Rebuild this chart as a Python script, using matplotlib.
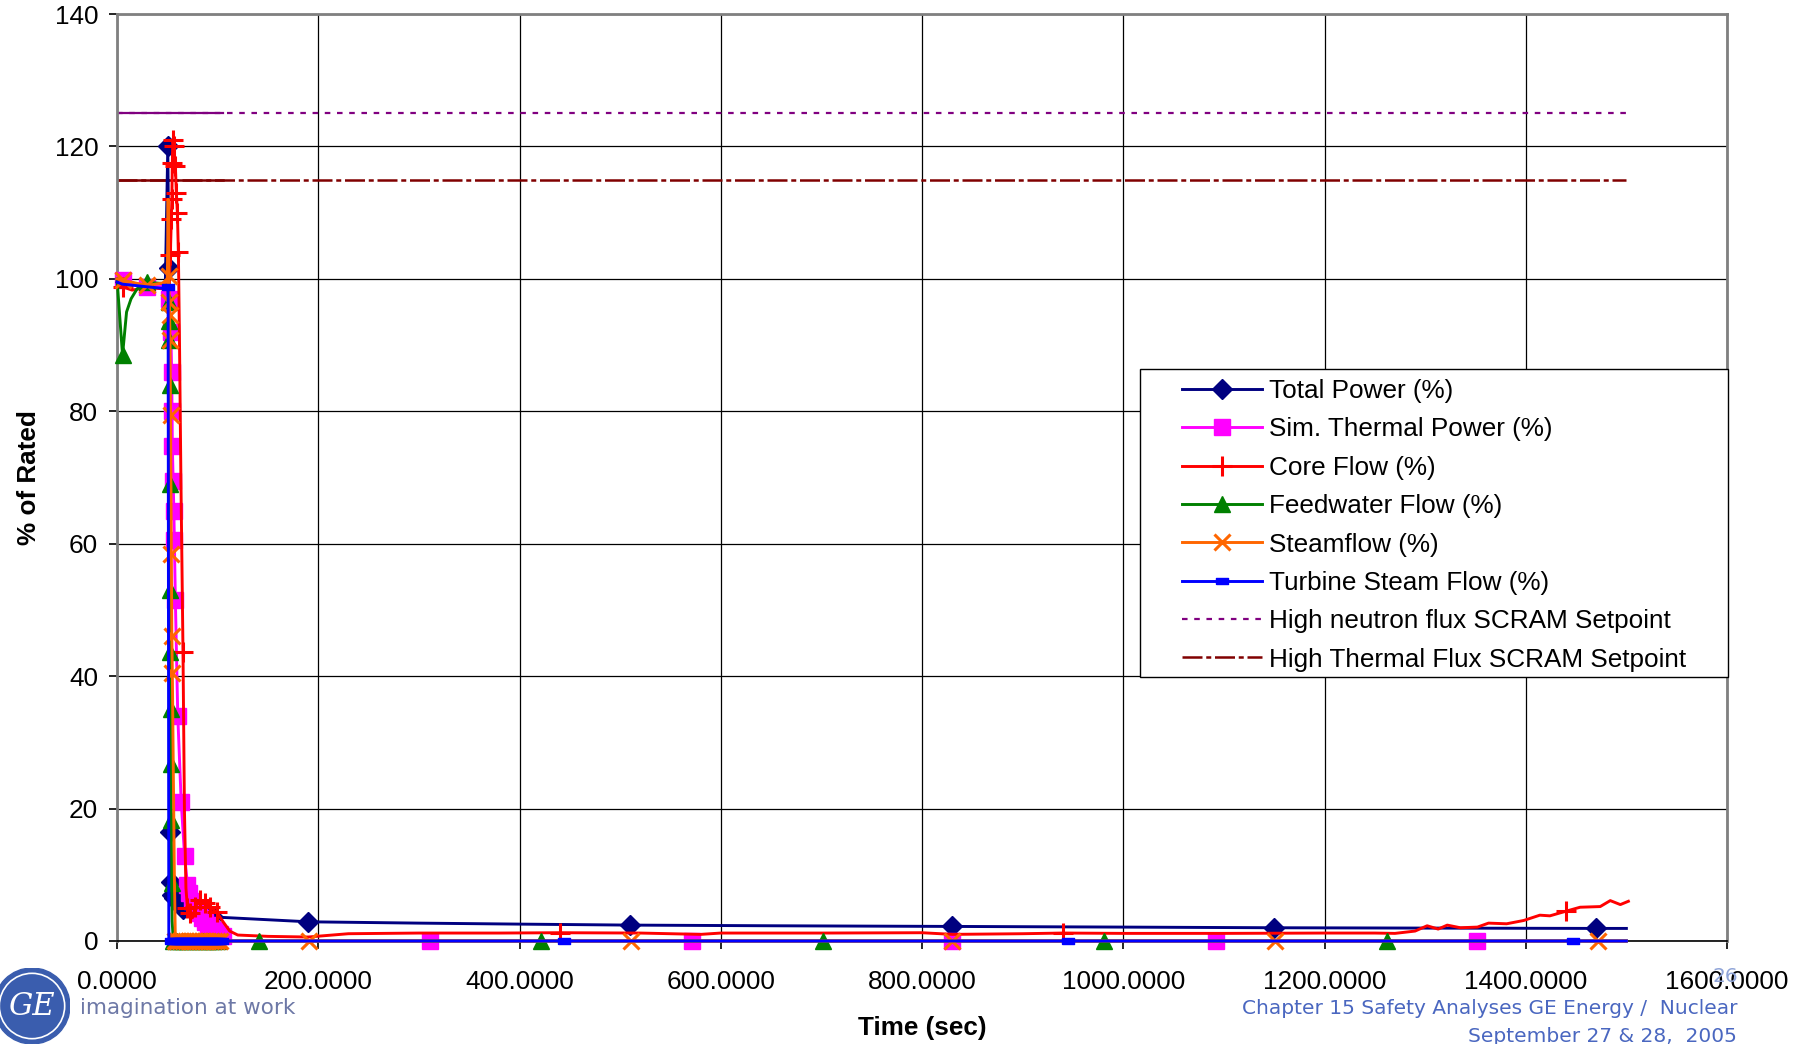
import matplotlib.pyplot as plt
from matplotlib.patches import Rectangle, Circle
from matplotlib.ticker import FormatStrFormatter, MultipleLocator

plt.rcParams['font.family'] = ['Liberation Sans', 'DejaVu Sans']

# ---- data (time in sec, values in % of rated) ----
# Total Power (%)
tp_t = [0, 5.5, 30, 48, 50.5, 51.5, 52.4, 53.2, 54.5, 57, 60, 63, 66, 70, 75, 80, 85, 90, 95, 100,
        190, 300, 400, 510, 650, 830, 1000, 1150, 1300, 1470, 1500]
tp_v = [99.5, 99.3, 99.0, 99.0, 120.0, 101.6, 16.5, 8.9, 7.0, 6.5, 6.0, 5.4, 4.8, 4.5, 4.3, 4.2, 4.0, 3.9, 3.7, 3.6,
        2.9, 2.7, 2.55, 2.4, 2.3, 2.2, 2.1, 2.0, 1.95, 1.9, 1.9]
tp_mk = [50.5, 51.5, 52.4, 53.2, 54.5, 57, 63, 66, 90, 95, 190, 510, 830, 1150, 1470]

# Sim. Thermal Power (%)
st_t = [0, 5.5, 30, 50, 52, 53.5, 54.3, 54.7, 55.0, 55.8, 56.5, 57, 58, 60.4, 63.8, 67.2, 70, 72, 75, 78, 81,
        84, 87, 90, 93, 96, 99, 102, 105, 108, 311, 571, 830, 1092, 1352, 1500]
st_v = [100, 99.8, 98.8, 99.0, 97, 92, 86, 80, 74.7, 69.5, 65, 60.5, 51.5, 34, 21, 12.8, 8.5, 7.2, 6.0, 5.0, 4.2,
        3.5, 2.9, 2.4, 2.0, 1.6, 1.3, 1.0, 0.8, 0, 0, 0, 0, 0, 0, 0]
st_mk = [5.5, 30, 52, 53.5, 54.3, 54.7, 55.0, 55.8, 56.5, 57, 58, 60.4, 63.8, 67.2, 70, 72, 75, 78, 81,
         84, 87, 90, 93, 96, 99, 102, 105, 311, 571, 830, 1092, 1352]

# Core Flow (%)
cf_t = [0, 5.5, 15, 30, 45, 50, 52, 53, 54, 54.5, 55, 55.5, 56.5, 58, 59, 60, 61, 62, 63.5, 65.6, 67, 68.5,
        70, 72.5, 75, 78, 82.5, 87, 92, 99, 105, 112, 120, 150, 190, 230, 300, 380, 440, 520, 580, 600,
        700, 800, 830, 900, 940, 1000, 1100, 1200, 1250, 1270, 1290, 1302, 1313, 1322, 1335, 1352, 1363,
        1381, 1398, 1414, 1424, 1440, 1454, 1474, 1484, 1494, 1502]
cf_v = [99.5, 98.8, 98.3, 98.7, 98.5, 98.5, 99.0, 103.6, 109, 112, 117.5, 121, 120, 117, 113, 110, 104, 92,
        70, 43.6, 20, 8, 5.0, 4.2, 3.5, 5.2, 6.2, 5.8, 5.1, 4.4, 3.0, 1.5, 0.9, 0.7, 0.6, 1.1, 1.2, 1.2,
        1.25, 1.2, 1.0, 1.2, 1.2, 1.25, 1.0, 1.1, 1.2, 1.15, 1.15, 1.2, 1.2, 1.15, 1.5, 2.3, 1.8, 2.4, 2.0,
        2.1, 2.7, 2.6, 3.1, 3.9, 3.8, 4.5, 5.1, 5.2, 6.1, 5.5, 6.0]
cf_mk = [5.5, 53, 54, 54.5, 55, 55.5, 56.5, 58, 59, 60, 61, 65.6, 70, 72.5, 78, 82.5, 87, 92, 99,
         440, 940, 1440]

# Feedwater Flow (%)
fw_t = [0, 5.5, 9.5, 14, 20, 30, 45, 50.5, 51.3, 51.6, 51.9, 52.2, 52.5, 52.8, 53.1, 53.4, 53.7, 54.0,
        54.3, 54.8, 56, 60, 65, 70, 75, 80, 85, 90, 95, 100, 141, 421, 702, 981, 1262, 1500]
fw_v = [100, 88.5, 95, 97, 98.5, 99.5, 99.3, 99.0, 96.5, 93.6, 90.8, 84, 69, 53, 43.7, 35, 26.8, 18.2,
        8.8, 3, 0, 0, 0, 0, 0, 0, 0, 0, 0, 0, 0, 0, 0, 0, 0, 0]
fw_mk = [5.5, 30, 51.3, 51.6, 51.9, 52.2, 52.5, 52.8, 53.1, 53.4, 53.7, 54.0, 54.3, 56, 60, 65, 70, 75,
         80, 85, 90, 95, 100, 141, 421, 702, 981, 1262]

# Steamflow (%)
sf_t = [0, 5.5, 30, 50, 50.8, 51.5, 52, 52.3, 52.7, 53.2, 54, 54.5, 55, 56, 57, 58, 60, 63, 66, 69, 72,
        75, 78, 81, 84, 87, 90, 93, 96, 99, 102, 191, 511, 830, 1151, 1472, 1500]
sf_v = [100, 99.8, 99.0, 99.5, 112, 100.5, 96.5, 94.5, 90.7, 79.4, 58.5, 46, 40.5, 25, 10, 0, 0, 0, 0, 0,
        0, 0, 0, 0, 0, 0, 0, 0, 0, 0, 0, 0, 0, 0, 0, 0, 0]
sf_mk = [5.5, 30, 51.5, 52, 52.3, 52.7, 53.2, 54, 54.5, 55, 58, 60, 63, 66, 69, 72, 75, 78, 81, 84, 87,
         90, 93, 96, 99, 102, 191, 511, 830, 1151, 1472]

# Turbine Steam Flow (%)
ts_t = [0, 5.5, 30, 50, 50.8, 51.5, 54, 56, 58, 60, 62, 64, 66, 68, 70, 72, 74, 76, 78, 80, 82, 84, 86,
        88, 90, 92, 94, 96, 98, 100, 102, 104, 444, 945, 1447, 1500]
ts_v = [99.5, 99.2, 98.8, 98.5, 98.8, 0, 0, 0, 0, 0, 0, 0, 0, 0, 0, 0, 0, 0, 0, 0, 0, 0, 0, 0, 0, 0, 0,
        0, 0, 0, 0, 0, 0, 0, 0, 0]
ts_mk = [50.8, 54, 56, 58, 60, 62, 64, 66, 68, 70, 72, 74, 76, 78, 80, 82, 84, 86, 88, 90, 92, 94, 96,
         98, 100, 102, 104, 444, 945, 1447]

# SCRAM setpoints
sp_t = [0, 1500]
neutron_sp = [125, 125]
thermal_sp = [115, 115]


def marks(t, mk):
    return [i for i, x in enumerate(t) if x in mk]


fig = plt.figure(figsize=(17.97, 10.44), dpi=100)
ax = fig.add_axes([117 / 1797, 1 - 941 / 1044, 1610 / 1797, 927 / 1044])

lw = 2.1
common = dict(lw=lw, zorder=3, clip_on=False)
ax.plot(tp_t, tp_v, color='#000080', marker='D', ms=10, markevery=marks(tp_t, tp_mk),
        label='Total Power (%)', **common)
ax.plot(st_t, st_v, color='#FF00FF', marker='s', ms=11, markevery=marks(st_t, st_mk),
        label='Sim. Thermal Power (%)', **common)
ax.plot(cf_t, cf_v, color='#FF0000', marker='+', ms=15, mew=2.2, markevery=marks(cf_t, cf_mk),
        label='Core Flow (%)', **common)
ax.plot(fw_t, fw_v, color='#008000', marker='^', ms=11, markevery=marks(fw_t, fw_mk),
        label='Feedwater Flow (%)', **common)
ax.plot(sf_t, sf_v, color='#FF6600', marker='x', ms=11, mew=2.2, markevery=marks(sf_t, sf_mk),
        label='Steamflow (%)', **common)
ts_marker = [(-1, -0.5), (1, -0.5), (1, 0.5), (-1, 0.5), (-1, -0.5)]
ax.plot(ts_t, ts_v, color='#0000FF', marker=ts_marker, ms=9, markevery=marks(ts_t, ts_mk),
        label='Turbine Steam Flow (%)', **common)

# setpoints: solid over the densely sampled start, then dashed
ax.plot([0, 105], neutron_sp, color='#800080', lw=1.6, zorder=2)
ax.plot([0, 105], thermal_sp, color='#800000', lw=1.8, zorder=2)
ax.plot(sp_t, neutron_sp, color='#800080', lw=1.6, ls=(0, (2.5, 3)), zorder=2,
        label='High neutron flux SCRAM Setpoint')
ax.plot(sp_t, thermal_sp, color='#800000', lw=1.8, ls=(0, (8, 1.5, 2, 1.5)), zorder=2,
        label='High Thermal Flux SCRAM Setpoint')

ax.set_xlim(0, 1600)
ax.set_ylim(0, 140)
ax.xaxis.set_major_locator(MultipleLocator(200))
ax.yaxis.set_major_locator(MultipleLocator(20))
ax.xaxis.set_major_formatter(FormatStrFormatter('%.4f'))
ax.grid(True, color='black', lw=0.9, zorder=0)
ax.set_axisbelow(True)
ax.tick_params(direction='out', length=6, width=1.2, labelsize=18.8, color='black')
ax.tick_params(axis='x', pad=15)
ax.tick_params(axis='y', pad=7.5)
for side in ['left', 'top', 'right']:
    ax.spines[side].set_color('#808080')
    ax.spines[side].set_linewidth(2)
ax.spines['bottom'].set_color('black')
ax.spines['bottom'].set_linewidth(1.2)

ax.set_xlabel('Time (sec)', fontsize=18.8, fontweight='bold')
ax.set_ylabel('% of Rated', fontsize=18.8, fontweight='bold')
ax.xaxis.set_label_coords(0.5, -0.081)
ax.yaxis.set_label_coords(-0.047, 0.5)

# legend with a wide box like the spreadsheet chart
leg = ax.legend(loc='upper left', bbox_to_anchor=(1169 / 1797, 1 - 366 / 1044),
                bbox_transform=fig.transFigure, frameon=False, fontsize=18.8,
                borderpad=0, handlelength=3.05, handletextpad=0.27, labelspacing=0.55)
leg.set_zorder(6)
ax.add_patch(Rectangle((1140 / 1797, 1 - 677 / 1044), 588 / 1797, 308 / 1044,
                       transform=fig.transFigure, facecolor='white', edgecolor='black',
                       lw=1.0, zorder=5, clip_on=False))

# footer
logo = fig.add_axes([-6 / 1797, 0, 76 / 1797, 76 / 1044])
logo.set_xlim(-1, 1)
logo.set_ylim(-1, 1)
logo.axis('off')
logo.add_patch(Circle((0, 0), 1, color='#3A5DAE'))
logo.add_patch(Circle((0, 0), 0.86, fill=False, ec='white', lw=1.2))
logo.text(0, -0.02, 'GE', color='white', fontsize=22, style='italic', family='DejaVu Serif',
          ha='center', va='center')

fig.text(80 / 1797, 1 - 1008 / 1044, 'imagination at work', color='#6D78A6', fontsize=15.5,
         family='DejaVu Sans', ha='left', va='center')
fig.text(1737 / 1797, 1 - 1008 / 1044, 'Chapter 15 Safety Analyses GE Energy /  Nuclear',
         color='#4A67C0', fontsize=14.5, family='DejaVu Sans', ha='right', va='center')
fig.text(1737 / 1797, 1 - 1037 / 1044, 'September 27 & 28,  2005',
         color='#4A67C0', fontsize=14.5, family='DejaVu Sans', ha='right', va='center')
fig.text(1725 / 1797, 1 - 977 / 1044, '26', color='#8FA4D8', fontsize=14.5,
         family='DejaVu Sans', ha='center', va='center')

fig.savefig('out.png', dpi=100)
